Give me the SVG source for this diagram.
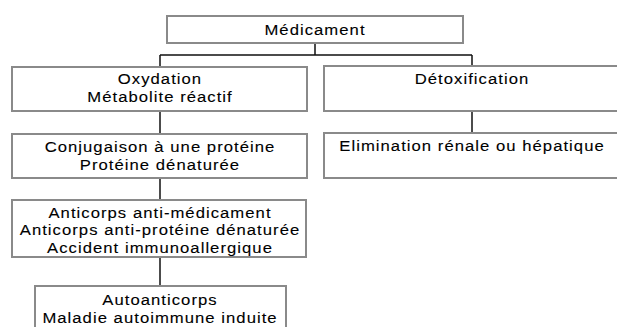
<svg xmlns="http://www.w3.org/2000/svg" width="617" height="327" viewBox="0 0 617 327">
<style>
.box{fill:none;stroke:#8a8a8a;stroke-width:2}
.t{font-family:"Liberation Sans",Arial,sans-serif;font-size:14.5px;letter-spacing:0.9px;fill:#000;stroke:#000;stroke-width:0.1;text-anchor:middle}
.c{fill:none;stroke:#111;stroke-width:1.5}
</style>
<rect width="617" height="327" fill="#fff"/>
<g id="connectors">
<path class="c" d="M315 43V55M160 55H472M160 55V67M472 55V66"/>
<path class="c" d="M160 111V134"/>
<path class="c" d="M472 111V133"/>
<path class="c" d="M160 178V200"/>
<path class="c" d="M160 257V286"/>
</g>
<g id="n-medicament">
<rect class="box" x="167" y="16" width="296" height="27"/>
<text class="t" transform="translate(315 35) scale(1.15 1)">Médicament</text>
</g>
<g id="n-oxydation">
<rect class="box" x="12" y="67" width="295" height="44"/>
<text class="t" transform="translate(160 84) scale(1.15 1)">Oxydation</text>
<text class="t" transform="translate(160 102) scale(1.15 1)">Métabolite réactif</text>
</g>
<g id="n-detox">
<rect class="box" x="324" y="66" width="300" height="45"/>
<text class="t" transform="translate(472 84) scale(1.15 1)">Détoxification</text>
</g>
<g id="n-conjugaison">
<rect class="box" x="12" y="134" width="295" height="44"/>
<text class="t" transform="translate(160 152) scale(1.15 1)">Conjugaison à une protéine</text>
<text class="t" transform="translate(160 170) scale(1.15 1)">Protéine dénaturée</text>
</g>
<g id="n-elimination">
<rect class="box" x="324" y="133" width="300" height="45"/>
<text class="t" transform="translate(472 151) scale(1.15 1)">Elimination rénale ou hépatique</text>
</g>
<g id="n-anticorps">
<rect class="box" x="12" y="200" width="294" height="57"/>
<text class="t" transform="translate(160 218) scale(1.15 1)">Anticorps anti-médicament</text>
<text class="t" transform="translate(160 235) scale(1.15 1)">Anticorps anti-protéine dénaturée</text>
<text class="t" transform="translate(160 253) scale(1.15 1)">Accident immunoallergique</text>
</g>
<g id="n-auto">
<rect class="box" x="35" y="286" width="251" height="50"/>
<text class="t" transform="translate(160 305) scale(1.15 1)">Autoanticorps</text>
<text class="t" transform="translate(160 323) scale(1.15 1)">Maladie autoimmune induite</text>
</g>
</svg>
